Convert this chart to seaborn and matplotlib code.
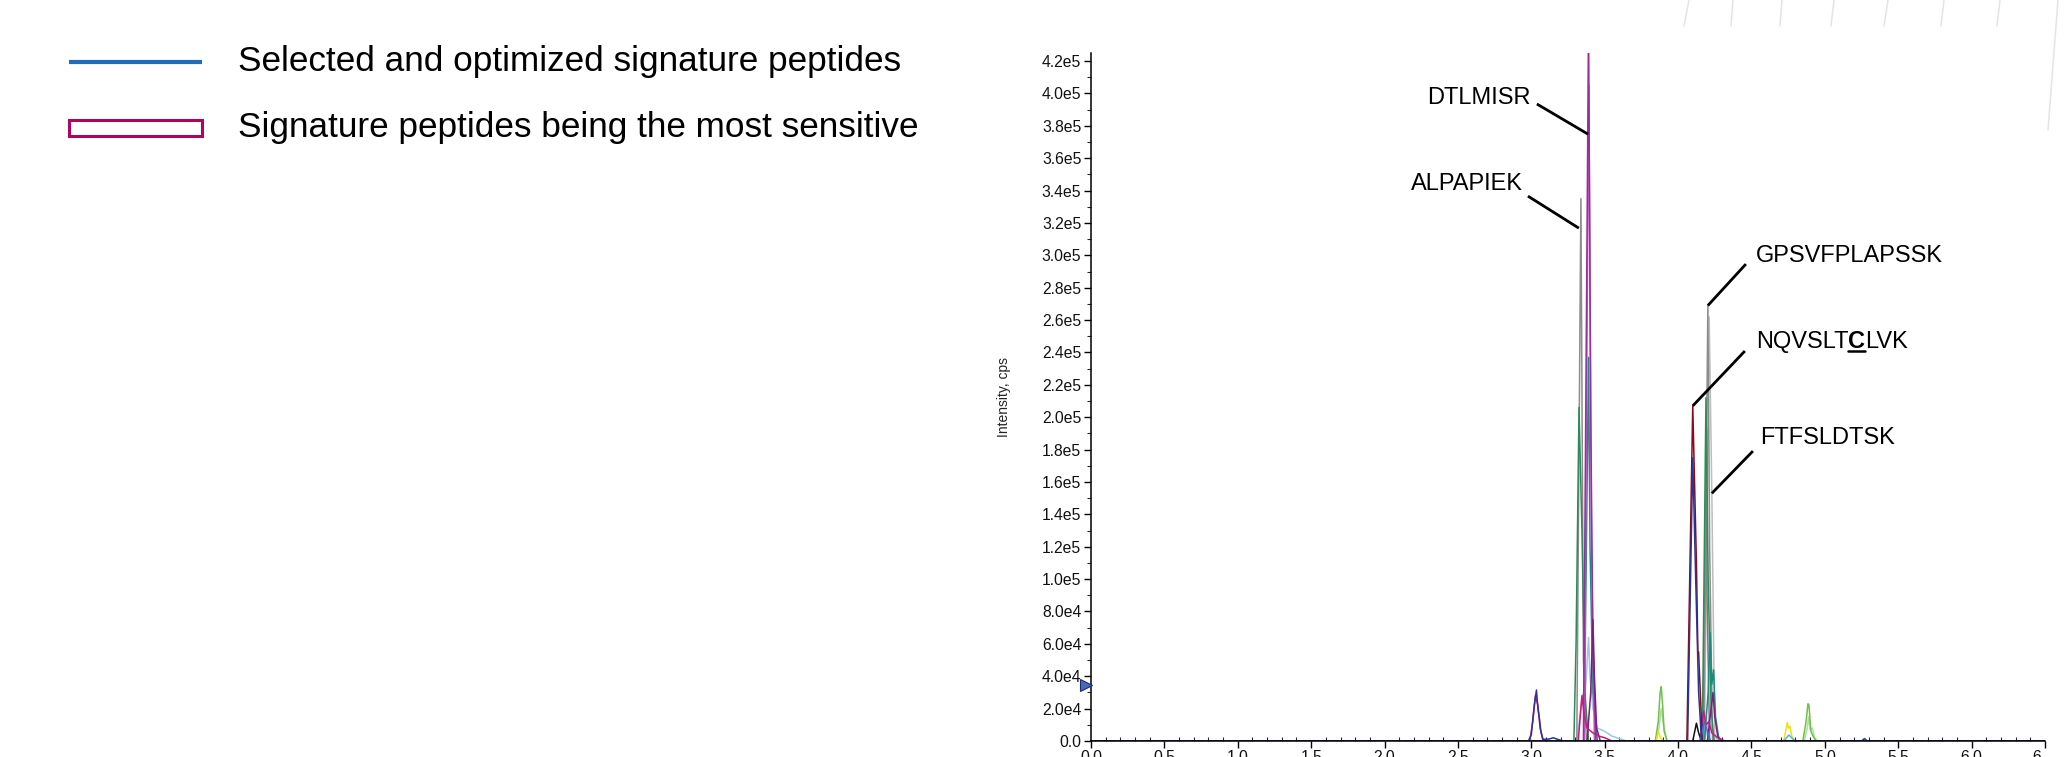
import numpy as np
import pandas as pd
import matplotlib
matplotlib.use("Agg")
import matplotlib.pyplot as plt
from matplotlib.lines import Line2D
from matplotlib.patches import Rectangle
from matplotlib.ticker import MultipleLocator
import seaborn as sns

# ---- extracted-ion chromatogram traces: retention time (min) / intensity (cps) ----
navy_t = [0.0, 2.98, 3.00, 3.02, 3.035, 3.045, 3.055, 3.065, 3.08, 3.12, 3.15, 3.18, 3.22,
          4.065, 4.10, 4.12, 4.14, 4.16, 5.25, 5.27, 5.29, 6.5]
navy_y = [0, 0, 4e3, 2.2e4, 3.15e4, 2.0e4, 1.4e4, 6e3, 1e3, 1.2e3, 2e3, 1e3, 0,
          0, 1.75e5, 1.0e5, 3e4, 0, 0, 1.5e3, 0, 0]

magenta_t = [0.0, 2.99, 3.01, 3.028, 3.045, 3.06, 3.08, 3.32, 3.345, 3.36, 3.38, 3.42, 3.46,
             3.5, 3.55, 4.15, 4.165, 4.175, 4.19, 4.21, 4.23, 4.27, 4.32, 6.5]
magenta_y = [0, 0, 1.2e4, 2.8e4, 2.2e4, 8e3, 0, 0, 2.8e4, 1.6e4, 8e3, 5e3, 3e3,
             2e3, 0, 0, 1.2e4, 1.85e4, 1e4, 1.2e4, 5e3, 2e3, 0, 0]

gray_t = [0.0, 3.31, 3.338, 3.355, 3.375, 4.175, 4.203, 4.215, 4.235, 6.5]
gray_y = [0, 0, 3.35e5, 5e4, 0, 0, 2.69e5, 1.2e5, 0, 0]

silver_t = [0.0, 4.18, 4.212, 4.23, 4.25, 6.5]
silver_y = [0, 0, 2.62e5, 1.53e5, 0, 0]

slate_t = [0.0, 4.17, 4.195, 4.197, 4.215, 6.5]
slate_y = [0, 0, 1.93e5, 9e4, 0, 0]

green_t = [0.0, 3.29, 3.305, 3.325, 3.345, 3.365, 3.39, 4.165, 4.19, 4.205, 4.225, 4.245, 6.5]
green_y = [0, 0, 6e4, 2.06e5, 1.3e5, 3e4, 0, 0, 2.12e5, 1e5, 2e4, 0, 0]

purple_t = [0.0, 3.355, 3.39, 3.405, 3.42, 3.44, 6.5]
purple_y = [0, 0, 4.45e5, 2e5, 6e4, 0, 0]

orchid_t = [0.0, 3.36, 3.392, 3.41, 3.43, 6.5]
orchid_y = [0, 0, 4.05e5, 1.2e5, 0, 0]

teal_t = [0.0, 3.36, 3.39, 3.40, 3.42, 3.45, 4.18, 4.205, 4.218, 4.23, 4.242, 4.255, 4.28, 6.5]
teal_y = [0, 0, 2.37e5, 1.2e5, 3e4, 0, 0, 3e4, 6.7e4, 3.5e4, 4.4e4, 1.5e4, 0, 0]

skyblue_t = [0.0, 3.31, 3.33, 3.35, 3.36, 3.375, 3.39, 3.40, 3.42, 3.45, 3.5, 3.55, 3.6, 3.65,
             4.18, 4.21, 4.24, 4.27, 6.5]
skyblue_y = [0, 0, 1.5e4, 2.9e4, 2.2e4, 4e4, 6.4e4, 4e4, 2e4, 8e3, 6e3, 3e3, 1.5e3, 0,
             0, 1.4e4, 6e3, 0, 0]

plum_t = [0.0, 3.38, 3.405, 3.42, 3.43, 3.445, 3.47, 4.2, 4.225, 4.238, 4.25, 4.27, 4.3, 6.5]
plum_y = [0, 0, 3e4, 7.5e4, 4e4, 8e3, 0, 0, 2e4, 3e4, 1.5e4, 3e3, 0, 0]

lime_t = [0.0, 3.845, 3.865, 3.878, 3.885, 3.895, 3.905, 3.925,
          4.85, 4.872, 4.885, 4.892, 4.905, 4.92, 4.94, 6.5]
lime_y = [0, 0, 1.2e4, 3.0e4, 3.35e4, 2.2e4, 6e3, 0,
          0, 1.2e4, 2.3e4, 2.2e4, 6e3, 3e3, 0, 0]

sage_t = [0.0, 3.85, 3.87, 3.885, 3.9, 3.925, 4.86, 4.88, 4.89, 4.90, 4.915, 4.93, 4.95, 6.5]
sage_y = [0, 0, 8e3, 2e4, 1e4, 0, 0, 8e3, 1.5e4, 7e3, 8e3, 2e3, 0, 0]

yellow_t = [0.0, 3.85, 3.865, 3.88, 3.9, 4.72, 4.735, 4.745, 4.752, 4.762, 4.775, 4.79, 6.5]
yellow_y = [0, 0, 6e3, 2e3, 0, 0, 7e3, 1.15e4, 8e3, 9e3, 3e3, 0, 0]

cyan_t = [0.0, 4.17, 4.19, 4.21, 4.72, 4.755, 4.78, 4.8, 6.5]
cyan_y = [0, 0, 8e3, 0, 0, 3.7e3, 1.5e3, 0, 0]

darkred_t = [0.0, 4.06, 4.10, 4.125, 4.135, 4.14, 4.165, 6.5]
darkred_y = [0, 0, 2.07e5, 1.1e5, 5.5e4, 5.5e4, 0, 0]

black_t = [0.0, 4.10, 4.125, 4.14, 4.16, 6.5]
black_y = [0, 0, 1.1e4, 5e3, 0, 0]

blue_t = [0.0, 4.15, 4.18, 4.20, 4.22, 6.5]
blue_y = [0, 0, 1.2e4, 6e3, 0, 0]

trace_colors = {
    "sage": "#b5dba0", "lime": "#6cc24a", "yellow": "#f0e010", "cyan": "#4db6e0",
    "skyblue": "#9ec5e8", "silver": "#bdbdbd", "slate": "#7a7a7a", "gray": "#8c8c8c",
    "green": "#2e8b57", "teal": "#1b8a8a", "orchid": "#c25bc2", "purple": "#9b2d9b",
    "plum": "#7b1f7b", "magenta": "#c8197e", "darkred": "#8b0a1a", "black": "#111111",
    "blue": "#3d6fd0", "navy": "#2d3592",
}
traces = {
    "sage": (sage_t, sage_y), "lime": (lime_t, lime_y), "yellow": (yellow_t, yellow_y),
    "cyan": (cyan_t, cyan_y), "skyblue": (skyblue_t, skyblue_y), "silver": (silver_t, silver_y),
    "slate": (slate_t, slate_y), "gray": (gray_t, gray_y), "green": (green_t, green_y),
    "teal": (teal_t, teal_y), "orchid": (orchid_t, orchid_y), "purple": (purple_t, purple_y),
    "plum": (plum_t, plum_y), "magenta": (magenta_t, magenta_y), "darkred": (darkred_t, darkred_y),
    "black": (black_t, black_y), "blue": (blue_t, blue_y), "navy": (navy_t, navy_y),
}

# peptide labels: text, text anchor (x, y), leader start, leader end (on the peak)
peptide_names = ["DTLMISR", "ALPAPIEK", "GPSVFPLAPSSK", "FTFSLDTSK"]
peptide_text_xy = [(2.997, 3.935e5), (2.943, 3.403e5), (4.530, 2.959e5), (4.557, 1.834e5)]
peptide_text_ha = ["right", "right", "left", "left"]
peptide_lead_from = [(3.038, 3.935e5), (2.977, 3.366e5), (4.462, 2.946e5), (4.510, 1.791e5)]
peptide_lead_to = [(3.386, 3.749e5), (3.324, 3.168e5), (4.203, 2.690e5), (4.230, 1.530e5)]
cys_text_xy = (4.530, 2.427e5)
cys_lead_from = (4.455, 2.409e5)
cys_lead_to = (4.100, 2.070e5)

x_ticks = [0.0, 0.5, 1.0, 1.5, 2.0, 2.5, 3.0, 3.5, 4.0, 4.5, 5.0, 5.5, 6.0, 6.5]
x_tick_labels = ["0.0", "0.5", "1.0", "1.5", "2.0", "2.5", "3.0", "3.5", "4.0", "4.5",
                 "5.0", "5.5", "6.0", "6."]
y_ticks = [0, 2e4, 4e4, 6e4, 8e4, 1e5, 1.2e5, 1.4e5, 1.6e5, 1.8e5, 2e5, 2.2e5, 2.4e5,
           2.6e5, 2.8e5, 3e5, 3.2e5, 3.4e5, 3.6e5, 3.8e5, 4e5, 4.2e5]
y_tick_labels = ["0.0", "2.0e4", "4.0e4", "6.0e4", "8.0e4", "1.0e5", "1.2e5", "1.4e5",
                 "1.6e5", "1.8e5", "2.0e5", "2.2e5", "2.4e5", "2.6e5", "2.8e5", "3.0e5",
                 "3.2e5", "3.4e5", "3.6e5", "3.8e5", "4.0e5", "4.2e5"]
threshold_level = 3.46e4

legend_labels = ["Selected and optimized signature peptides",
                 "Signature peptides being the most sensitive"]
legend_colors = ["#1f6db8", "#b0055e"]

# ---- build long-form table ----
rows = []
for name, (tt, yy) in traces.items():
    for i, (t, y) in enumerate(zip(tt, yy)):
        rows.append({"trace": name, "order": i, "time": t, "intensity": y})
df = pd.DataFrame(rows)

sns.set_theme(style="ticks")
plt.rcParams["font.family"] = ["Liberation Sans", "DejaVu Sans"]

W, H = 2071, 757
fig = plt.figure(figsize=(W / 100, H / 100), dpi=100)
ax = fig.add_axes([1091 / W, 16 / H, (2045 - 1091) / W, (741 - 53) / H])

sns.lineplot(data=df, x="time", y="intensity", hue="trace", hue_order=list(traces.keys()),
             palette=trace_colors, estimator=None, sort=False, legend=False,
             linewidth=1.1, ax=ax)

ax.set_xlim(0, 6.5)
ax.set_ylim(0, 4.25e5)
ax.set_xticks(x_ticks)
ax.set_xticklabels(x_tick_labels)
ax.set_yticks(y_ticks)
ax.set_yticklabels(y_tick_labels)
ax.xaxis.set_minor_locator(MultipleLocator(0.1))
ax.yaxis.set_minor_locator(MultipleLocator(1e4))
ax.tick_params(axis="both", which="major", labelsize=11.3, length=5, width=1, color="black",
               labelcolor="#111111")
ax.tick_params(axis="x", which="major", pad=1.5)
ax.tick_params(axis="y", which="major", pad=2)
ax.tick_params(axis="x", which="minor", length=3, width=0.8, direction="in")
ax.tick_params(axis="y", which="minor", length=3, width=0.8)
ax.get_xticklabels()[-1].set_ha("right")
for side in ("top", "right"):
    ax.spines[side].set_visible(False)
for side in ("left", "bottom"):
    ax.spines[side].set_linewidth(1.1)
    ax.spines[side].set_color("black")
ax.set_xlabel("")
ax.set_ylabel("Intensity, cps", fontsize=10, color="#222222")
ax.yaxis.set_label_coords((1011 - 1091) / (2045 - 1091), 0.5)

# threshold marker on the intensity axis
ax.plot([-0.035], [threshold_level], marker=">", markersize=9, color="#4a68b5",
        markeredgecolor="#1c2a6e", markeredgewidth=0.8, clip_on=False, zorder=5)

# peptide annotations
for name, txy, ha, p0, p1 in zip(peptide_names, peptide_text_xy, peptide_text_ha,
                                 peptide_lead_from, peptide_lead_to):
    ax.text(txy[0], txy[1], name, fontsize=17, ha=ha, va="baseline", color="black")
    ax.plot([p0[0], p1[0]], [p0[1], p1[1]], color="black", lw=2.0,
            solid_capstyle="butt", zorder=6)
ax.plot([cys_lead_from[0], cys_lead_to[0]], [cys_lead_from[1], cys_lead_to[1]],
        color="black", lw=2.0, solid_capstyle="butt", zorder=6)

t1 = ax.text(cys_text_xy[0], cys_text_xy[1], "NQVSLT", fontsize=17, ha="left",
             va="baseline", color="black")
fig.canvas.draw()
renderer = fig.canvas.get_renderer()
inv = ax.transData.inverted()
bb1 = t1.get_window_extent(renderer)
x_c = inv.transform((bb1.x1, 0))[0]
t2 = ax.text(x_c, cys_text_xy[1], "C", fontsize=17, fontweight="bold", ha="left",
             va="baseline", color="black")
fig.canvas.draw()
bb2 = t2.get_window_extent(renderer)
x_l = inv.transform((bb2.x1, 0))[0]
ax.text(x_l, cys_text_xy[1], "LVK", fontsize=17, ha="left", va="baseline", color="black")
base_px = ax.transData.transform(cys_text_xy)[1]
ul_y = (base_px - 3) / H
fig.add_artist(Line2D([bb2.x0 / W, bb2.x1 / W], [ul_y, ul_y], transform=fig.transFigure,
                      color="black", lw=1.8))

# legend drawn in figure space
fig.add_artist(Line2D([69 / W, 202 / W], [1 - 62 / H, 1 - 62 / H], transform=fig.transFigure,
                      color=legend_colors[0], lw=3.0, solid_capstyle="butt"))
fig.text(238 / W, 1 - 62 / H, legend_labels[0], fontsize=25.3, ha="left", va="center",
         color="black")
fig.add_artist(Rectangle((69 / W, 1 - 136 / H), 133 / W, 16 / H, transform=fig.transFigure,
                         facecolor="white", edgecolor=legend_colors[1], lw=2.2))
fig.text(238 / W, 1 - 128 / H, legend_labels[1], fontsize=25.3, ha="left", va="center",
         color="black")

# faint slanted rules along the top-right edge
for xt, xb in [(1689, 1684), (1733, 1731), (1782, 1780), (1834, 1831), (1888, 1884),
               (1944, 1941), (2000, 1997)]:
    fig.add_artist(Line2D([xt / W, xb / W], [1.0, 1 - 26 / H], transform=fig.transFigure,
                          color="#e1e4ea", lw=1.1))
fig.add_artist(Line2D([2058 / W, 2048 / W], [1.0, 1 - 130 / H], transform=fig.transFigure,
                      color="#e1e4ea", lw=1.1))

fig.savefig("out.png", dpi=100, facecolor="white")
